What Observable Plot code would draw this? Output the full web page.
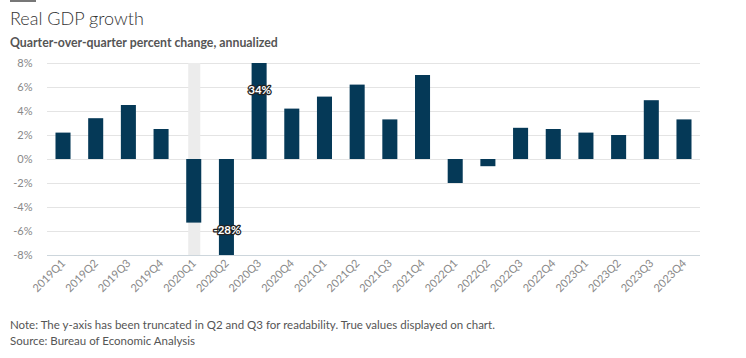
<!DOCTYPE html>
<html>
<head>
<meta charset="utf-8">
<script src="https://cdn.jsdelivr.net/npm/d3@7/dist/d3.min.js"></script>
<script src="https://cdn.jsdelivr.net/npm/@observablehq/plot@0.6/dist/plot.umd.min.js"></script>
<style>
  html, body { margin: 0; padding: 0; background: #fff; font-family: Lato, "Open Sans", sans-serif; }
  #wrap { width: 746px; height: 358px; position: relative; overflow: hidden; }
  #topbar { position: absolute; left: 10px; top: 0; width: 26px; height: 2px; background: #777; }
  #title { position: absolute; left: 10px; top: 4px; font-size: 18px; font-weight: 300; color: #333; line-height: 28px; }
  #subtitle { position: absolute; left: 10px; top: 34px; font-size: 12.3px; font-weight: 700; color: #555; line-height: 18px; }
  #chart { position: absolute; left: 0; top: 55px; }
  #foot { position: absolute; left: 10px; top: 317px; font-size: 11.5px; color: #555; line-height: 16px; }
</style>
</head>
<body>
<div id="wrap">
  <div id="topbar"></div>
  <div id="title">Real GDP growth</div>
  <div id="subtitle">Quarter-over-quarter percent change, annualized</div>
  <div id="chart"></div>
  <div id="foot">Note: The y-axis has been truncated in Q2 and Q3 for readability. True values displayed on chart.<br>Source: Bureau of Economic Analysis</div>
</div>
<script>
const quarters = ["2019Q1","2019Q2","2019Q3","2019Q4","2020Q1","2020Q2","2020Q3","2020Q4",
  "2021Q1","2021Q2","2021Q3","2021Q4","2022Q1","2022Q2","2022Q3","2022Q4",
  "2023Q1","2023Q2","2023Q3","2023Q4"];
const growth = [2.2, 3.4, 4.5, 2.5, -5.3, -28.0, 34.0, 4.2,
  5.2, 6.2, 3.3, 7.0, -2.0, -0.6, 2.6, 2.5,
  2.2, 2.0, 4.9, 3.3];
const recession = ["2020Q1"];
const yTicks = [-8, -6, -4, -2, 0, 2, 4, 6, 8];
const yDomain = [-8, 8];

const data = quarters.map((q, i) => ({q, v: growth[i]}));
const truncated = data.filter(d => d.v > yDomain[1] || d.v < yDomain[0]);

const chart = Plot.plot({
  width: 746,
  height: 250,
  marginTop: 8,
  marginBottom: 50,
  marginLeft: 47,
  marginRight: 46,
  style: {fontFamily: "Lato, 'Open Sans', sans-serif", fontSize: "11px", color: "#888", background: "transparent"},
  x: {domain: quarters, paddingInner: 0.54, paddingOuter: 0.26, round: false, label: null},
  y: {domain: yDomain, clamp: true, label: null},
  marks: [
    Plot.ruleY(yTicks.slice(1), {stroke: "#e4e4e4", strokeWidth: 1}),
    Plot.barY(recession, {x: d => d, y1: yDomain[0], y2: yDomain[1], fill: "#ececec", insetLeft: 2, insetRight: 1}),
    Plot.ruleY([yDomain[0]], {stroke: "#cdd6dc", strokeWidth: 1.2}),
    Plot.barY(data, {x: "q", y: "v", fill: "#053957"}),
    Plot.text(truncated.filter(d => d.v > 0), {x: "q", y: "v", text: d => `${Math.round(d.v)}%`, dy: 27,
      fill: "white", stroke: "#222", strokeWidth: 2.5, fontWeight: 700, fontSize: 11.5}),
    Plot.text(truncated.filter(d => d.v < 0), {x: "q", y: "v", text: d => `${Math.round(d.v)}%`, dy: -25,
      fill: "white", stroke: "#222", strokeWidth: 2.5, fontWeight: 700, fontSize: 11.5}),
    Plot.axisY({ticks: yTicks, tickFormat: d => `${d}%`, tickSize: 0, tickPadding: 15, fill: "#888", label: null}),
    Plot.axisX({tickSize: 0, tickPadding: 6, tickRotate: -45, fill: "#888", label: null})
  ]
});
document.getElementById("chart").appendChild(chart);
</script>
</body>
</html>
